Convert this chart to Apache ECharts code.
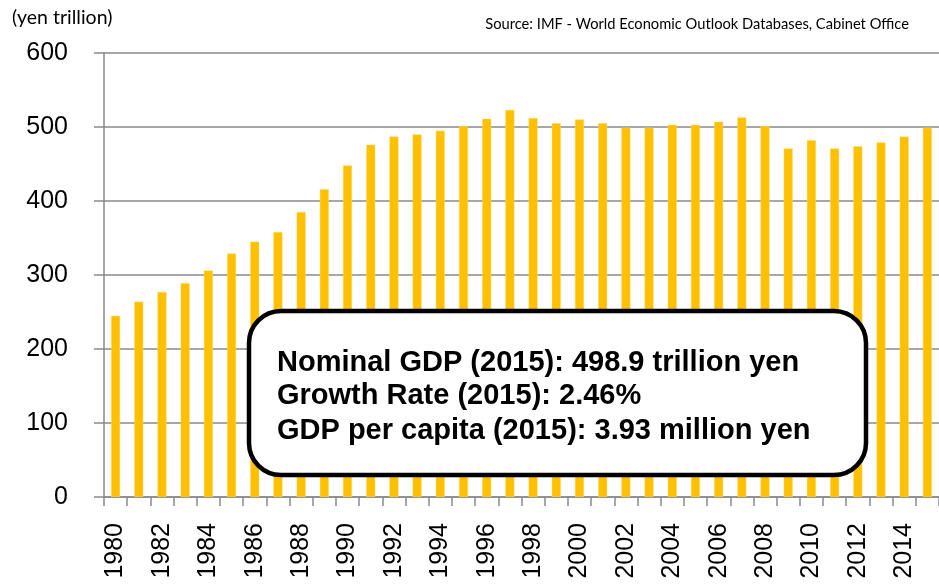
<!DOCTYPE html>
<html>
<head>
<meta charset="utf-8">
<script src="https://cdn.jsdelivr.net/npm/echarts@6/dist/echarts.min.js"></script>
<style>
  html, body { margin: 0; padding: 0; background: #fff; }
  #chart { width: 939px; height: 586px; }
</style>
</head>
<body>
<div id="chart"></div>
<script>
// Japan nominal GDP, yen trillion
const years = ['1980','1981','1982','1983','1984','1985','1986','1987','1988','1989',
  '1990','1991','1992','1993','1994','1995','1996','1997','1998','1999',
  '2000','2001','2002','2003','2004','2005','2006','2007','2008','2009',
  '2010','2011','2012','2013','2014','2015'];
const gdp = [245, 264, 277, 289, 306, 329, 345, 358, 385, 416,
  448, 476, 487, 490, 495, 501, 511, 523, 512, 505,
  510, 505, 499, 499, 503, 503, 507, 513, 501, 471,
  482, 471, 474, 479, 487, 498.9];
const yTicks = { min: 0, max: 600, interval: 100 };
const unitLabel = '(yen trillion)';
const sourceLabel = 'Source: IMF - World Economic Outlook Databases, Cabinet Office';
const noteLines = [
  'Nominal GDP (2015): 498.9 trillion yen',
  'Growth Rate (2015): 2.46%',
  'GDP per capita (2015): 3.93 million yen'
];

const chart = echarts.init(document.getElementById('chart'), null, { renderer: 'canvas' });
const axisGray = '#8a8a8a';

// summary box text, one element per line
const noteY = [363, 396, 431];
const noteText = noteLines.map((t, i) => ({
  type: 'text', z: 101, x: 277, y: noteY[i],
  style: {
    text: t,
    font: 'bold 29px "Liberation Sans"',
    textVerticalAlign: 'middle',
    fill: '#000'
  }
}));

chart.setOption({
  animation: false,
  backgroundColor: '#ffffff',
  grid: { left: 104, top: 53, width: 837, height: 444, containLabel: false },
  xAxis: {
    type: 'category',
    data: years,
    boundaryGap: true,
    axisLine: { show: true, lineStyle: { color: axisGray, width: 1.5 } },
    axisTick: { show: true, alignWithLabel: false, interval: 0, length: 9, lineStyle: { color: axisGray, width: 1.5 } },
    axisLabel: {
      interval: 1, rotate: 90, margin: 26,
      fontFamily: 'Liberation Sans', fontSize: 25, color: '#000'
    },
    splitLine: { show: false }
  },
  yAxis: {
    type: 'value',
    min: yTicks.min, max: yTicks.max, interval: yTicks.interval,
    axisLine: { show: true, lineStyle: { color: axisGray, width: 1.5 } },
    axisTick: { show: true, length: 10, lineStyle: { color: axisGray, width: 1.5 } },
    axisLabel: { margin: 36, fontFamily: 'Liberation Sans', fontSize: 25, color: '#000' },
    splitLine: { show: true, lineStyle: { color: axisGray, width: 1.5 } }
  },
  series: [{
    type: 'bar',
    data: gdp,
    barWidth: 9,
    itemStyle: { color: '#FFC000', borderColor: '#FFD966', borderWidth: 0.5 }
  }],
  graphic: [
    {
      type: 'text', left: 12, top: 8,
      style: { text: unitLabel, font: '19.5px Lato', fill: '#000' }
    },
    {
      type: 'text', right: 30, top: 17,
      style: { text: sourceLabel, font: '14.7px Lato', fill: '#000' }
    },
    {
      type: 'rect', z: 100,
      shape: { x: 249, y: 311, width: 617, height: 164, r: 32 },
      style: { fill: '#ffffff', stroke: '#000000', lineWidth: 4.5 }
    }
  ].concat(noteText)
});
</script>
</body>
</html>
